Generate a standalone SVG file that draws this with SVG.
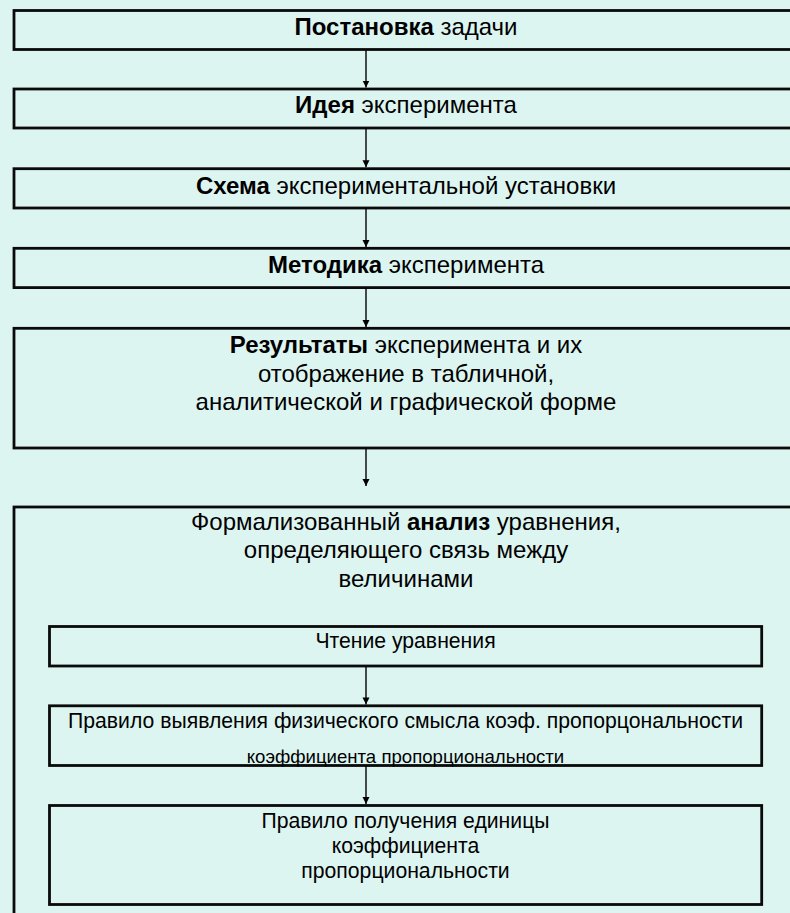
<svg xmlns="http://www.w3.org/2000/svg" width="790" height="913" viewBox="0 0 790 913">
<defs>
<style>
.box{fill:#DDF5F1;stroke:#0a0a0a;stroke-width:2.8}
.t{font-family:"Liberation Sans",Arial,sans-serif;font-size:24px;fill:#000;text-anchor:middle}
.s{font-family:"Liberation Sans",Arial,sans-serif;font-size:21.2px;fill:#000;text-anchor:middle}
.xs{font-family:"Liberation Sans",Arial,sans-serif;font-size:18.6px;fill:#000;text-anchor:middle}
.b{font-weight:bold}
.c{stroke:#000;stroke-width:1.4;fill:none;marker-end:url(#ah)}
</style>
<marker id="ah" markerWidth="7" markerHeight="8" refX="7" refY="3.5" orient="auto" markerUnits="userSpaceOnUse">
<path d="M0,0 L7,3.5 L0,7 Z" fill="#000"/>
</marker>
</defs>
<rect x="0" y="0" width="790" height="913" fill="#DDF5F1"/>
<g id="n1"><rect class="box" x="14" y="10.5" width="800" height="39"/><text class="t" x="406" y="35"><tspan class="b">Постановка</tspan> задачи</text></g>
<g id="n2"><rect class="box" x="14" y="89" width="800" height="39"/><text class="t" x="406" y="113"><tspan class="b">Идея</tspan> эксперимента</text></g>
<g id="n3"><rect class="box" x="14" y="168.7" width="800" height="39.3"/><text class="t" x="406" y="193.5"><tspan class="b">Схема</tspan> экспериментальной установки</text></g>
<g id="n4"><rect class="box" x="14" y="248.3" width="800" height="39.3"/><text class="t" x="406" y="273"><tspan class="b">Методика</tspan> эксперимента</text></g>
<g id="n5"><rect class="box" x="14" y="328.3" width="800" height="119.7"/><text class="t" x="406" y="353"><tspan class="b">Результаты</tspan> эксперимента и их</text><text class="t" x="406" y="381.7">отображение в табличной,</text><text class="t" x="406" y="410">аналитической и графической форме</text></g>
<g id="n6"><rect class="box" x="14" y="507" width="800" height="420"/><text class="t" x="406" y="530">Формализованный <tspan class="b">анализ</tspan> уравнения,</text><text class="t" x="406" y="558.3">определяющего связь между</text><text class="t" x="406" y="586.7">величинами</text></g>
<g id="n7"><rect class="box" x="49.5" y="626.5" width="712.2" height="39.5"/><text class="s" x="405.5" y="648">Чтение уравнения</text></g>
<g id="n8"><rect class="box" x="49.5" y="705.8" width="712.2" height="59.7"/><text class="s" x="405.5" y="728">Правило выявления физического смысла коэф. пропорцональности</text><text class="xs" x="405.5" y="763">коэффициента пропорциональности</text></g>
<g id="n9"><rect class="box" x="49.5" y="805.5" width="712.2" height="99"/><text class="s" x="405.5" y="828">Правило получения единицы</text><text class="s" x="405.5" y="853">коэффициента</text><text class="s" x="405.5" y="878">пропорциональности</text></g>
<g id="connectors">
<line class="c" x1="366" y1="50" x2="366" y2="87.5"/>
<line class="c" x1="366" y1="128.5" x2="366" y2="167.3"/>
<line class="c" x1="366" y1="208" x2="366" y2="247"/>
<line class="c" x1="366" y1="288" x2="366" y2="327"/>
<line class="c" x1="366" y1="449" x2="366" y2="486"/>
<line class="c" x1="366" y1="667" x2="366" y2="704.4"/>
<line class="c" x1="366" y1="766" x2="366" y2="804"/>
</g>
</svg>
